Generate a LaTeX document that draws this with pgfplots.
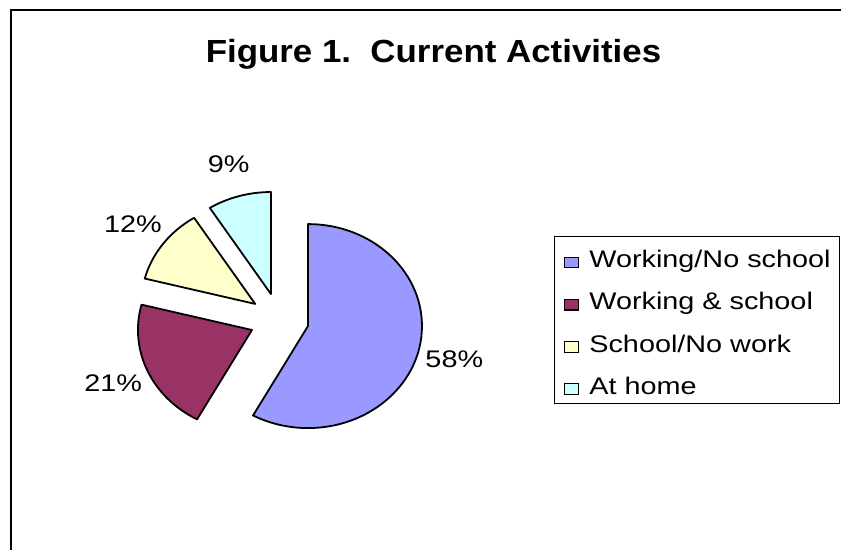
\documentclass[border=0pt]{standalone}
\usepackage{pgfplots}
\pgfplotsset{compat=1.18}
\usepackage{pgfplotstable}
\usepackage{fontspec}
\setmainfont{Liberation Sans}[FakeStretch=1.2]
\newfontfamily\titlefont{Liberation Sans}[FakeStretch=1.09]

\definecolor{pieblue}{HTML}{9999FF}
\definecolor{piered}{HTML}{993366}
\definecolor{pieyellow}{HTML}{FFFFCC}
\definecolor{piecyan}{HTML}{CCFFFF}

% shares in percent, clockwise from 12 o'clock
\pgfplotstableread{
value
58
21
12
9
}\piedata

\newcommand\lab{\fontsize{12}{14}\selectfont}

\begin{document}
\begin{tikzpicture}
\pgfplotstablegetelem{0}{value}\of\piedata \let\vA\pgfplotsretval
\pgfplotstablegetelem{1}{value}\of\piedata \let\vB\pgfplotsretval
\pgfplotstablegetelem{2}{value}\of\piedata \let\vC\pgfplotsretval
\pgfplotstablegetelem{3}{value}\of\piedata \let\vD\pgfplotsretval
\pgfmathsetmacro\sA{90}
\pgfmathsetmacro\eA{\sA-3.6*\vA}
\pgfmathsetmacro\eB{\eA-3.6*\vB}
\pgfmathsetmacro\eC{\eB-3.6*\vC}
\pgfmathsetmacro\eD{\eC-3.6*\vD}
\pgfmathsetmacro\mA{(\sA+\eA)/2}
\pgfmathsetmacro\mB{(\eA+\eB)/2}
\pgfmathsetmacro\mC{(\eB+\eC)/2}
\pgfmathsetmacro\mD{(\eC+\eD)/2}
\begin{axis}[
  width=420.5pt, height=275pt, scale only axis,
  xmin=0, xmax=841, ymin=0, ymax=550,
  axis lines=none, ticks=none, clip=false,
  legend style={at={(0.6587,0.5709)}, anchor=north west,
    draw=black, line width=0.6pt, font=\lab,
    inner xsep=4.6pt, inner ysep=4.1pt, row sep=9.2pt,
    cells={anchor=base west},
    nodes={inner sep=0pt, text height=11.5pt, text depth=0.4pt},
    /tikz/every odd column/.append style={column sep=5pt}},
  legend image code/.code={\draw[#1] (0pt,0pt) rectangle (7.2pt,5.3pt);},
]
\addlegendimage{fill=pieblue, draw=black, line width=0.6pt}
\addlegendentry{Working/No school}
\addlegendimage{fill=piered, draw=black, line width=0.6pt}
\addlegendentry{Working \& school}
\addlegendimage{fill=pieyellow, draw=black, line width=0.6pt}
\addlegendentry{School/No work}
\addlegendimage{fill=piecyan, draw=black, line width=0.6pt}
\addlegendentry{At home}

% exploded slices
\filldraw[fill=pieblue, line width=0.9pt, line join=round]
  (axis cs:279.2,230.5) ++(\mA:14.85pt and 13.25pt) -- ++(\sA:57pt and 51pt)
  arc[start angle=\sA, end angle=\eA, x radius=57pt, y radius=51pt] -- cycle;
\filldraw[fill=piered, line width=0.9pt, line join=round]
  (axis cs:279.2,230.5) ++(\mB:14.85pt and 13.25pt) -- ++(\eA:57pt and 51pt)
  arc[start angle=\eA, end angle=\eB, x radius=57pt, y radius=51pt] -- cycle;
\filldraw[fill=pieyellow, line width=0.9pt, line join=round]
  (axis cs:279.2,230.5) ++(\mC:14.85pt and 13.25pt) -- ++(\eB:57pt and 51pt)
  arc[start angle=\eB, end angle=\eC, x radius=57pt, y radius=51pt] -- cycle;
\filldraw[fill=piecyan, line width=0.9pt, line join=round]
  (axis cs:279.2,230.5) ++(\mD:14.85pt and 13.25pt) -- ++(\eC:57pt and 51pt)
  arc[start angle=\eC, end angle=\eD, x radius=57pt, y radius=51pt] -- cycle;

% percent labels
\path (axis cs:279.2,230.5) ++(\mA:90.4pt and 80.75pt) node[font=\lab] {58\%};
\path (axis cs:279.2,230.5) ++(\mB:90.4pt and 80.75pt) node[font=\lab] {21\%};
\path (axis cs:279.2,230.5) ++(\mC:90.4pt and 80.75pt) node[font=\lab] {12\%};
\path (axis cs:279.2,230.5) ++(\mD:90.4pt and 80.75pt) node[font=\lab] {9\%};

\node[font=\titlefont\bfseries\fontsize{16}{19}\selectfont, anchor=base]
  at (axis cs:433.5,487) {Figure 1.\ \ Current Activities};

\draw[line width=1pt] (axis cs:11,0) -- (axis cs:11,540) -- (axis cs:842,540);
\coordinate (BL) at (axis cs:0,0);
\coordinate (TR) at (axis cs:841,550);
\end{axis}
\pgfresetboundingbox
\path (BL) rectangle (TR);
\end{tikzpicture}
\end{document}
